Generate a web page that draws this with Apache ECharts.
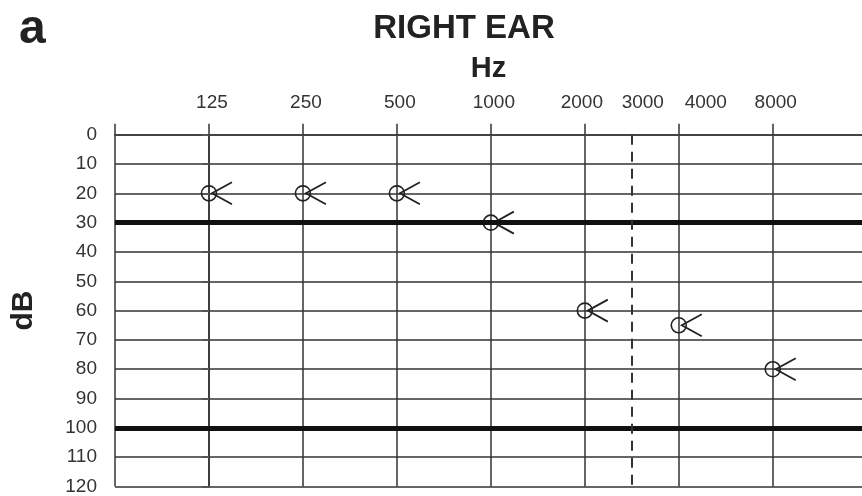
<!DOCTYPE html>
<html>
<head>
<meta charset="utf-8">
<script src="https://cdn.jsdelivr.net/npm/echarts@6/dist/echarts.min.js"></script>
<style>html,body{margin:0;padding:0;background:#fff}#c{width:862px;height:496px}</style>
</head>
<body>
<div id="c"></div>
<script>
// Frequency axis: position index on octave scale and its tick label
var freqPos = [0, 1, 2, 3, 4, 4.5, 5, 6];
var freqLabels = ['125', '250', '500', '1000', '2000', '3000', '4000', '8000'];
var octaveTicks = [-1, 0, 1, 2, 3, 4, 5, 6];
// Air-conduction thresholds (right ear)
var pointFreqPos = [0, 1, 2, 3, 4, 5, 6];
var pointDb = [20, 20, 20, 30, 60, 65, 80];
// Reference lines
var boldDbLines = [30, 100];
var dashedFreqPos = [4.5];

var chart = echarts.init(document.getElementById('c'), null, {renderer: 'canvas'});
var FONT = 'Liberation Sans, Arial, sans-serif';

var data = pointFreqPos.map(function (p, i) { return [p, pointDb[i]]; });

chart.setOption({
  animation: false,
  backgroundColor: '#fff',
  title: [
    {text: 'a', left: 14, top: 1,
     textStyle: {fontFamily: FONT, fontWeight: 'bold', fontSize: 48, color: '#222'}},
    {text: 'RIGHT EAR', left: 459, textAlign: 'center', top: 7,
     textStyle: {fontFamily: FONT, fontWeight: 'bold', fontSize: 33, color: '#222'}}
  ],
  grid: {left: 115, top: 134.7, right: 0, bottom: 7.3, containLabel: false},
  xAxis: {
    type: 'value', position: 'top', min: -1, max: 6.95,
    name: 'Hz', nameLocation: 'middle', nameGap: 51,
    nameTextStyle: {fontFamily: FONT, fontWeight: 'bold', fontSize: 29, color: '#222'},
    axisLine: {show: true, lineStyle: {color: '#444', width: 2}},
    axisTick: {show: true, customValues: octaveTicks, length: 11, lineStyle: {color: '#333', width: 1.5}},
    axisLabel: {
      customValues: freqPos, margin: 22, fontFamily: FONT, fontSize: 19, color: '#333',
      formatter: function (v) {
        var i = freqPos.indexOf(v);
        if (i < 0) return '';
        var t = freqLabels[i];
        if (t === '3000') return '{b|' + t + '}';
        if (t === '4000') return '{c|' + t + '}';
        if (t === '2000') return '{d|' + t + '}';
        return '{a|' + t + '}';
      },
      rich: {
        a: {fontFamily: FONT, fontSize: 19, color: '#333', padding: [0, 0, 0, 6]},
        b: {fontFamily: FONT, fontSize: 19, color: '#333', padding: [0, 0, 0, 22]},
        c: {fontFamily: FONT, fontSize: 19, color: '#333', padding: [0, 0, 0, 54]},
        d: {fontFamily: FONT, fontSize: 19, color: '#333', padding: [0, 6, 0, 0]}
      }
    },
    splitLine: {show: true, lineStyle: {color: '#333', width: 1.5}}
  },
  yAxis: {
    type: 'value', inverse: true, min: 0, max: 120, interval: 10,
    name: 'dB', nameLocation: 'middle', nameGap: 76, nameRotate: 90,
    nameTextStyle: {fontFamily: FONT, fontWeight: 'bold', fontSize: 30, color: '#222'},
    axisLine: {show: true, lineStyle: {color: '#333', width: 1.5}},
    axisTick: {show: true, length: 7, lineStyle: {color: '#555', width: 2}},
    axisLabel: {margin: 18, fontFamily: FONT, fontSize: 19, color: '#333'},
    splitLine: {show: true, lineStyle: {color: '#666', width: 2}}
  },
  series: [{
    type: 'custom',
    coordinateSystem: 'cartesian2d',
    data: data,
    renderItem: function (params, api) {
      var c = api.coord([api.value(0), api.value(1)]);
      var cx = c[0], cy = c[1];
      return {
        type: 'group',
        children: [
          {type: 'circle', shape: {cx: cx, cy: cy, r: 7.5},
           style: {fill: 'none', stroke: '#222', lineWidth: 1.6}},
          {type: 'polyline', shape: {points: [[cx + 23, cy - 11], [cx + 3, cy], [cx + 23, cy + 11]]},
           style: {fill: 'none', stroke: '#222', lineWidth: 1.8}}
        ]
      };
    },
    markLine: {
      silent: true, symbol: 'none', label: {show: false},
      data: boldDbLines.map(function (v) {
        return {yAxis: v, lineStyle: {color: '#111', width: 5, type: 'solid'}};
      }).concat(dashedFreqPos.map(function (v) {
        return {xAxis: v, lineStyle: {color: '#333', width: 2, type: [10, 7]}};
      }))
    }
  }]
});
</script>
</body>
</html>
